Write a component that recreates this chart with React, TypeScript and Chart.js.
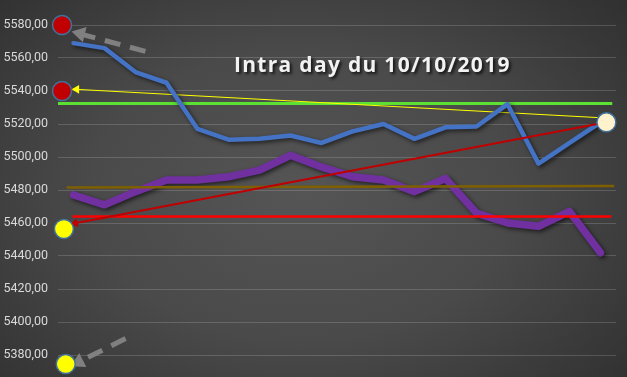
import React, { useEffect, useRef } from "react";
import { Chart, registerables } from "chart.js";

Chart.register(...registerables);

// ---- Data ----
const sessions = [0, 1, 2, 3, 4, 5, 6, 7, 8, 9, 10, 11, 12, 13, 14, 15, 16, 17];
const blueSeries = [5569, 5566, 5551.5, 5545, 5517, 5510.5, 5511, 5513, 5508.5, 5515.5, 5520, 5511, 5518, 5518.5, 5532, 5496, 5508.5, 5521];
const purpleSeries = [5477, 5471, 5479, 5486, 5486, 5488, 5492, 5501, 5494, 5488, 5486, 5479, 5487, 5466, 5460, 5458, 5467, 5442];
const yTicks = [5380, 5400, 5420, 5440, 5460, 5480, 5500, 5520, 5540, 5560, 5580];

// level lines: [xStart, yStart, xEnd, yEnd]
const greenLevel = [-0.5, 5532.5, 17.38, 5532.5];
const brownLevel = [-0.22, 5481.5, 17.44, 5482.5];
const redLevel = [-0.03, 5464, 17.35, 5464];
const redTrend = [17.19, 5521, 0.05, 5459.8];
const yellowTrend = [17.19, 5523.6, 0.1, 5541];
const arrowTop = [2.32, 5564, 0.3, 5574.2];
const arrowBottom = [1.68, 5390, 0.25, 5376.5];

// markers: [x, y]
const redDots = [[-0.37, 5580], [-0.37, 5540]];
const yellowDots = [[-0.31, 5456.4], [-0.25, 5374.5]];
const whiteDot = [[17.19, 5521]];

const seg = (a: number[]) => [{ x: a[0], y: a[1] }, { x: a[2], y: a[3] }];
const dots = (a: number[][]) => a.map((p) => ({ x: p[0], y: p[1] }));

const shadowPlugin = {
  id: "shadow",
  beforeDatasetDraw(chart: any, args: any) {
    const ds = chart.data.datasets[args.index];
    if (ds.shadow) {
      const ctx = chart.ctx;
      ctx.save();
      ctx.shadowColor = "rgba(0,0,0,0.6)";
      ctx.shadowBlur = 4;
      ctx.shadowOffsetX = 2;
      ctx.shadowOffsetY = 2;
    }
  },
  afterDatasetDraw(chart: any, args: any) {
    const ds = chart.data.datasets[args.index];
    if (ds.shadow) chart.ctx.restore();
  },
};

export default function App() {
  const ref = useRef<HTMLCanvasElement>(null);

  useEffect(() => {
    document.body.style.margin = "0";
    const line = (data: any[], color: string, width: number, order: number, extra: any = {}) => ({
      data,
      borderColor: color,
      backgroundColor: color,
      borderWidth: width,
      pointRadius: 0,
      fill: false,
      tension: 0,
      clip: false,
      order,
      ...extra,
    });
    const tip = (p: any, color: string, radius: number, rotation: number, order: number) => ({
      data: [p],
      showLine: false,
      pointStyle: "triangle",
      pointRadius: radius,
      pointRotation: rotation,
      pointBackgroundColor: color,
      pointBorderColor: color,
      pointBorderWidth: 0,
      clip: false,
      order,
    });
    const dotSet = (data: any[], fillColor: string, order: number) => ({
      data,
      showLine: false,
      pointRadius: 9.5,
      pointBackgroundColor: fillColor,
      pointBorderColor: "#41719C",
      pointBorderWidth: 1.5,
      clip: false,
      order,
    });

    const chart = new Chart(ref.current!, {
      type: "line",
      data: {
        datasets: [
          line(sessions.map((x, i) => ({ x, y: purpleSeries[i] })), "#7030A0", 7.5, 20, { shadow: true, borderJoinStyle: "round", borderCapStyle: "round" }),
          line(seg(greenLevel), "#5CE032", 3, 19),
          line(seg(yellowTrend), "#FFFF00", 1, 18),
          line(sessions.map((x, i) => ({ x, y: blueSeries[i] })), "#4472C4", 4.5, 17, { shadow: true, borderJoinStyle: "round", borderCapStyle: "round" }),
          line(seg(brownLevel), "#7F6000", 2.5, 16),
          line(seg(redLevel), "#FF0000", 2.5, 15),
          line(seg(redTrend), "#C00000", 2, 14),
          line(seg(arrowTop), "#808080", 5, 13, { borderDash: [16, 10] }),
          line(seg(arrowBottom), "#808080", 5, 12, { borderDash: [16, 10] }),
          tip({ x: arrowTop[2] - 0.08, y: arrowTop[3] + 0.6 }, "#808080", 9, 284, 11),
          tip({ x: arrowBottom[2] - 0.08, y: arrowBottom[3] - 0.8 }, "#808080", 9, 243, 11),
          tip({ x: yellowTrend[2], y: yellowTrend[3] }, "#FFFF00", 5, 270, 10),
          tip({ x: redTrend[2], y: redTrend[3] }, "#C00000", 5, 258, 10),
          dotSet(dots(redDots), "#C00000", 5),
          dotSet(dots(yellowDots), "#FFFF00", 5),
          dotSet(dots(whiteDot), "#FFF2CC", 5),
        ] as any,
      },
      options: {
        animation: false,
        responsive: false,
        events: [],
        layout: { padding: { top: 25, bottom: 22, left: 0, right: 0 } },
        plugins: { legend: { display: false }, tooltip: { enabled: false }, title: { display: false } },
        scales: {
          x: { type: "linear", min: -0.5, max: 17.5, display: false },
          y: {
            min: yTicks[0],
            max: yTicks[yTicks.length - 1],
            afterBuildTicks: (s: any) => {
              s.ticks = yTicks.map((v) => ({ value: v }));
            },
            afterFit: (s: any) => {
              s.width = 58;
            },
            ticks: {
              color: "#D9D9D9",
              padding: 10,
              font: { family: "Roboto", size: 12.5 },
              callback: (v: any) => Number(v).toFixed(2).replace(".", ","),
            },
            grid: { color: "rgba(255,255,255,0.16)", drawTicks: false, lineWidth: 1 },
            border: { display: false },
          },
        },
      },
      plugins: [shadowPlugin],
    });
    return () => chart.destroy();
  }, []);

  return (
    <div
      style={{
        position: "relative",
        width: 627,
        height: 377,
        overflow: "hidden",
        background: "radial-gradient(ellipse 75% 85% at 48% 52%, #555555 0%, #4a4a4a 45%, #2c2c2c 100%)",
      }}
    >
      <canvas ref={ref} width={627} height={377} style={{ position: "absolute", left: 0, top: 0 }} />
      <div
        style={{
          position: "absolute",
          left: 234,
          top: 54,
          fontFamily: "'Open Sans', sans-serif",
          fontWeight: 700,
          fontSize: 21,
          lineHeight: "21px",
          letterSpacing: "1.3px",
          whiteSpace: "nowrap",
          color: "#F2F2F2",
          textShadow: "2px 2px 3px rgba(0,0,0,0.75)",
        }}
      >
        Intra day du 10/10/2019
      </div>
    </div>
  );
}
